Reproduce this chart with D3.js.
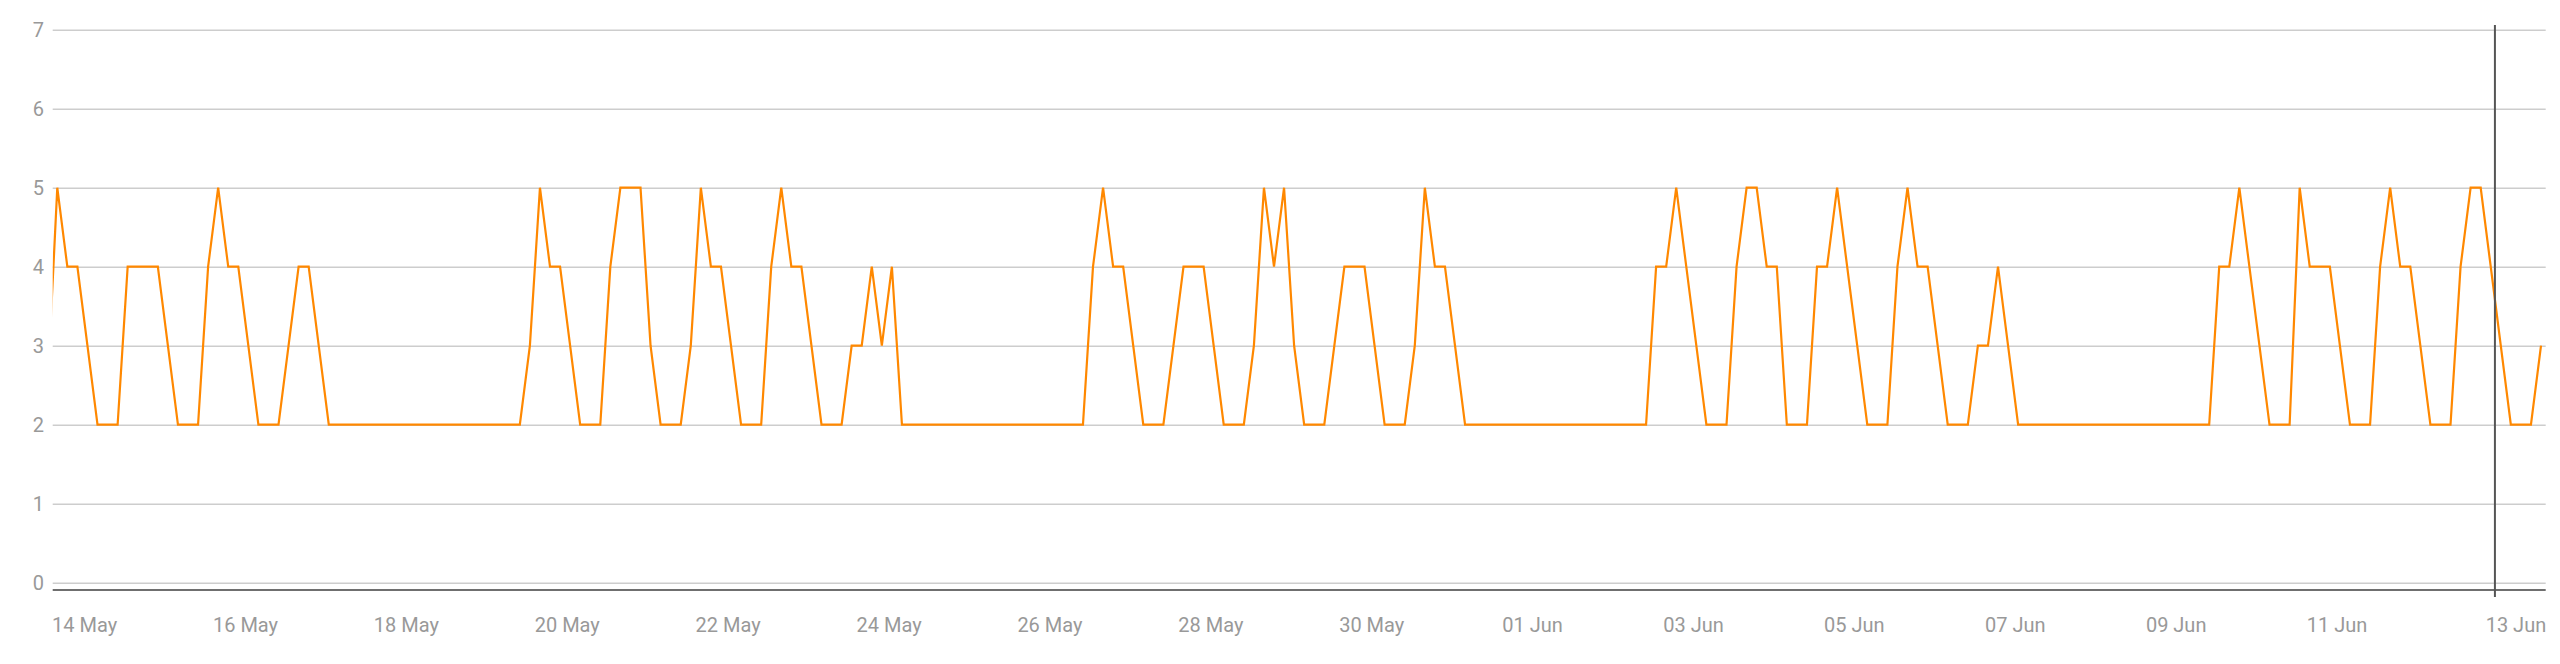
<!DOCTYPE html>
<html>
<head>
<meta charset="utf-8">
<script src="https://cdn.jsdelivr.net/npm/d3@7/dist/d3.min.js"></script>
<style>
  html, body { margin: 0; padding: 0; background: #fff; }
  svg { display: block; }
  text { font-family: Roboto, "Noto Sans", sans-serif; }
</style>
</head>
<body>
<svg id="chart" width="2560" height="664"></svg>
<script>
// ---- data ----
const firstSample = "2024-05-13T13:00:00Z";   // time of first sample
const sampleStepHours = 3;                     // sampling interval
const values = [
  2.4,
  5,4,4,3,2,2,2,4,4,4,4,3,2,2,2,4,5,4,4,3,2,2,2,3,4,4,3,
  2,2,2,2,2,2,2,2,2,2,2,2,2,2,2,2,2,2,2,2,
  3,5,4,4,3,2,2,2,4,5,5,5,3,2,2,2,3,5,4,4,3,2,2,2,4,5,4,4,3,2,2,2,3,3,4,3,4,
  2,2,2,2,2,2,2,2,2,2,2,2,2,2,2,2,2,2,2,
  4,5,4,4,3,2,2,2,3,4,4,4,3,2,2,2,3,5,4,5,3,2,2,2,3,4,4,4,3,2,2,2,3,5,4,4,3,
  2,2,2,2,2,2,2,2,2,2,2,2,2,2,2,2,2,2,2,
  4,4,5,4,3,2,2,2,4,5,5,4,4,2,2,2,4,4,5,4,3,2,2,2,4,5,4,4,3,2,2,2,3,3,4,3,
  2,2,2,2,2,2,2,2,2,2,2,2,2,2,2,2,2,2,2,2,
  4,4,5,4,3,2,2,2,5,4,4,4,3,2,2,2,4,5,4,4,3,2,2,2,4,5,5,4,3,2,2,2,3
];
const xDomain = ["2024-05-13T14:38:00Z", "2024-06-13T14:24:00Z"];
const xTickDates = ["2024-05-14","2024-05-16","2024-05-18","2024-05-20","2024-05-22","2024-05-24",
  "2024-05-26","2024-05-28","2024-05-30","2024-06-01","2024-06-03","2024-06-05","2024-06-07",
  "2024-06-09","2024-06-11","2024-06-13"];
const yTicks = [0,1,2,3,4,5,6,7];
const markerTime = "2024-06-12T23:15:00Z";

// ---- layout ----
const W = 2560, H = 664;
const pL = 52.7, pR = 2545.7, pT = 29.7, pB = 582.7;
const axisY = 590;

const parse = d3.isoParse;
const t0 = parse(firstSample).getTime();
const series = values.map((v, i) => ({ t: new Date(t0 + i * sampleStepHours * 3600e3), v }));

const x = d3.scaleUtc().domain(xDomain.map(parse)).range([pL, pR]);
const y = d3.scaleLinear().domain([0, 7]).range([pB, pT]);

const svg = d3.select("#chart");
svg.append("rect").attr("width", W).attr("height", H).attr("fill", "#fff");

svg.append("defs").append("clipPath").attr("id", "plotclip")
  .append("rect").attr("x", pL).attr("y", 0).attr("width", pR - pL).attr("height", H);

// grid lines + y labels
const yAxis = d3.axisLeft(y).tickValues(yTicks).tickSize(-(pR - pL)).tickPadding(9).tickFormat(d3.format("d"));
const gy = svg.append("g").attr("transform", `translate(${pL},0)`).call(yAxis);
gy.select(".domain").remove();
gy.selectAll(".tick line").attr("stroke", "#cdcdcd").attr("stroke-width", 1.5);
gy.selectAll(".tick text").attr("fill", "#999").attr("font-size", 20).attr("x", -8.7);

// x axis baseline
svg.append("line").attr("x1", pL).attr("x2", pR).attr("y1", axisY).attr("y2", axisY)
  .attr("stroke", "#6f6f6f").attr("stroke-width", 2);

// x tick labels
const fmt = d3.utcFormat("%d %b");
const tickDates = xTickDates.map(d => parse(d + "T00:00:00Z"));
const xAxis = d3.axisBottom(x).tickValues(tickDates).tickSize(0).tickPadding(0).tickFormat(fmt);
const gx = svg.append("g").attr("transform", `translate(0,${axisY})`).call(xAxis);
gx.select(".domain").remove();
gx.selectAll(".tick text").attr("fill", "#999").attr("font-size", 20).attr("dy", null).attr("y", 42);
// last label kept inside the plot's right edge
gx.selectAll(".tick").filter((d, i, n) => i === n.length - 1)
  .select("text").attr("text-anchor", "end").attr("x", pR - x(tickDates[tickDates.length - 1]));

// series line
const line = d3.line().x(d => x(d.t)).y(d => y(d.v));
svg.append("path").datum(series).attr("clip-path", "url(#plotclip)")
  .attr("d", line).attr("fill", "none").attr("stroke", "#ff8800").attr("stroke-width", 2.2)
  .attr("stroke-linejoin", "miter");

// vertical marker
const mx = x(parse(markerTime));
svg.append("line").attr("x1", mx).attr("x2", mx).attr("y1", 25).attr("y2", 597)
  .attr("stroke", "#555").attr("stroke-width", 2);
</script>
</body>
</html>
